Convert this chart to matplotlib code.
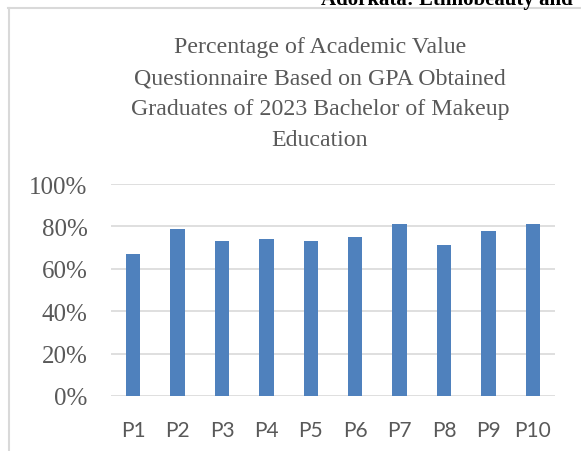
import matplotlib.pyplot as plt
from matplotlib.lines import Line2D

categories = ['P1', 'P2', 'P3', 'P4', 'P5', 'P6', 'P7', 'P8', 'P9', 'P10']
values = [0.67, 0.79, 0.73, 0.74, 0.73, 0.75, 0.81, 0.71, 0.78, 0.81]
yticks = [0, 0.2, 0.4, 0.6, 0.8, 1.0]
ytick_labels = ['0%', '20%', '40%', '60%', '80%', '100%']
title = ('Percentage of Academic Value\nQuestionnaire Based on GPA Obtained\n'
         'Graduates of 2023 Bachelor of Makeup\nEducation')

fig = plt.figure(figsize=(5.81, 4.52), dpi=100)
ax = fig.add_axes([111 / 581, 1 - 397 / 452, 444 / 581, 212 / 452])

x = range(len(categories))
ax.bar(x, values, width=0.32, color='#4F81BD', zorder=3)
ax.set_xlim(-0.5, len(categories) - 0.5)
ax.set_ylim(0, 1)
ax.set_yticks(yticks)
ax.set_yticklabels(ytick_labels, family='Liberation Serif', fontsize=18, color='#595959')
ax.set_xticks(list(x))
ax.set_xticklabels(categories, family='Lato', fontsize=15, color='#595959')
ax.tick_params(length=0)
ax.tick_params(axis='y', pad=17)
ax.tick_params(axis='x', pad=17)
ax.grid(axis='y', color='#D9D9D9', linewidth=1.2, zorder=0)
for s in ax.spines.values():
    s.set_visible(False)

fig.text(320 / 581, 1 - 94 / 452, title, ha='center', va='center',
         family='Liberation Serif', fontsize=17.2, color='#595959', linespacing=1.61)

# page header clipped at top and frame of the chart box
fig.text(573 / 581, 1 - 5 / 452, 'Adorkata: Ethnobeauty and', ha='right', va='baseline',
         family='Liberation Serif', fontweight='bold', fontsize=15, color='black')
fig.add_artist(Line2D([8 / 581, 1], [1 - 9 / 452, 1 - 9 / 452], color='#D9D9D9', lw=1.5,
                      transform=fig.transFigure))
fig.add_artist(Line2D([9 / 581, 9 / 581], [0, 1 - 9 / 452], color='#D9D9D9', lw=1.5,
                      transform=fig.transFigure))

fig.savefig('out.png', dpi=100)
